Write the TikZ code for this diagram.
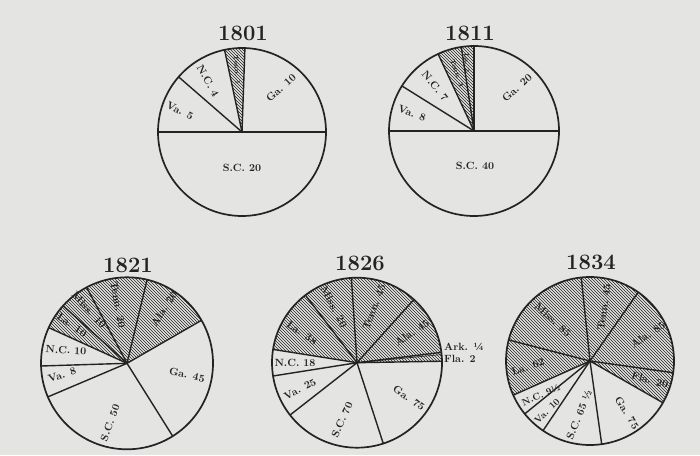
\documentclass[tikz,border=0pt]{standalone}
\usepackage{fontspec}
\usetikzlibrary{patterns}
\definecolor{paper}{RGB}{228,228,226}
\definecolor{ink}{RGB}{35,35,35}

\begin{document}
\begin{tikzpicture}[x=1pt, y=1pt, color=ink,
    title/.style={font=\fontsize{22}{24}\selectfont\bfseries, inner sep=0pt},
    lab/.style={font=\fontsize{10.5}{11}\selectfont\bfseries, inner sep=0pt},
    tinylab/.style={font=\fontsize{6.5}{7}\selectfont\bfseries, inner sep=0pt},
    rim/.style={line width=1.7pt},
    spoke/.style={line width=1.4pt},
    hatch/.style={pattern=north west lines, pattern color=ink}] % 1pt = 1px
    \fill[paper] (0,0) rectangle (700,455);
    \useasboundingbox (0,0) rectangle (700,455);

    % 1801
    \coordinate (c1801) at (242,323);
    \fill[hatch] (c1801) -- ++(88:84) arc[start angle=88, end angle=102, radius=84] -- cycle;
    \foreach \a in {0,88,102,139,180} \draw[spoke] (c1801) -- ++(\a:84);
    \draw[rim] (c1801) circle[radius=84];
    \node[title] (t1801) at (243,422) {1801};
    \node[lab] (sc1801) at (242,287) {S.C. 20};
    \node[lab, rotate=43] (ga1801) at (281,367) {Ga. 10};
    \node[lab, rotate=-61] (nc1801) at (208,374) {N.C. 4};
    \node[lab, rotate=-27] (va1801) at (180,344) {Va. 5};
    \node[tinylab, rotate=-85] (tn1801) at (237,385) {Tenn. 1};

    % 1811
    \coordinate (c1811) at (474,324);
    \fill[hatch] (c1811) -- ++(90:85) arc[start angle=90, end angle=115, radius=85] -- cycle;
    \foreach \a in {0,90,98.6,115,148,180} \draw[spoke] (c1811) -- ++(\a:85);
    \draw[rim] (c1811) circle[radius=85];
    \node[title] (t1811) at (470,422) {1811};
    \node[lab] (sc1811) at (475,289) {S.C. 40};
    \node[lab, rotate=43] (ga1811) at (517,367) {Ga. 20};
    \node[lab, rotate=-50] (nc1811) at (435,369) {N.C. 7};
    \node[lab, rotate=-20] (va1811) at (412,342) {Va. 8};
    \node[tinylab, rotate=-87] (la1811) at (467,392) {La. 2};
    \node[tinylab, rotate=-70] (tn1811) at (457,382) {Tenn. 3};

    % 1821
    \coordinate (c1821) at (127,91.7);
    \fill[hatch] (c1821) -- ++(30:86) arc[start angle=30, end angle=155.5, radius=86] -- cycle;
    \foreach \a in {-57.9,30,76.5,118,138,155.5,181.8,203} \draw[spoke] (c1821) -- ++(\a:86);
    \draw[rim] (c1821) circle[radius=86];
    \node[title] (t1821) at (128,190) {1821};
    \node[lab, rotate=-12] (ga1821) at (187,80) {Ga. 45};
    \node[lab, rotate=70] (sc1821) at (110,32) {S.C. 50};
    \node[lab, rotate=18] (va1821) at (62,80) {Va. 8};
    \node[lab, rotate=-3] (nc1821) at (66,105) {N.C. 10};
    \node[lab, rotate=-35] (la1821) at (72,130) {La. 10};
    \node[lab, rotate=-47] (ms1821) at (89,145) {Miss. 10};
    \node[lab, rotate=-80] (tn1821) at (118,150) {Tenn. 20};
    \node[lab, rotate=57] (al1821) at (164,146) {Ala. 20};

    % 1826
    \coordinate (c1826) at (357,92.3);
    \fill[hatch] (c1826) -- ++(1:85) arc[start angle=1, end angle=171, radius=85] -- cycle;
    \foreach \a in {-72,1,7,48,93.8,127.4,171,189,218} \draw[spoke] (c1826) -- ++(\a:85);
    \draw[line width=0.6pt] (c1826) -- ++(5.5:85);
    \draw[rim] (c1826) circle[radius=85];
    \node[title] (t1826) at (360,192) {1826};
    \node[lab, rotate=-35] (ga1826) at (409,57) {Ga. 75};
    \node[lab, rotate=66] (sc1826) at (342,35) {S.C. 70};
    \node[lab, rotate=27] (va1826) at (300,66) {Va. 25};
    \node[lab] (nc1826) at (295,92) {N.C. 18};
    \node[lab, rotate=-34] (la1826) at (302,122) {La. 38};
    \node[lab, rotate=-62] (ms1826) at (334,148) {Miss. 20};
    \node[lab, rotate=69] (tn1826) at (374,148) {Tenn. 45};
    \node[lab, rotate=34] (al1826) at (412,122) {Ala. 45};
    \node[lab, anchor=west] (ar1826) at (444,108) {Ark. ¼};
    \node[lab, anchor=west] (fl1826) at (444,96.5) {Fla. 2};

    % 1834
    \coordinate (c1834) at (590,94);
    \fill[hatch] (c1834) -- ++(-29.8:84) arc[start angle=-29.8, end angle=204, radius=84] -- cycle;
    \foreach \a in {-82,-29.8,-8,55,96,165.5,204,219,236} \draw[spoke] (c1834) -- ++(\a:84);
    \draw[rim] (c1834) circle[radius=84];
    \node[title] (t1834) at (591,193) {1834};
    \node[lab, rotate=-58] (ga1834) at (627,42) {Ga. 75};
    \node[lab, rotate=68] (sc1834) at (579,40) {S.C. 65 ½};
    \node[lab, rotate=45, font=\fontsize{9.5}{10}\selectfont\bfseries] (va1834) at (547,44) {Va. 10};
    \node[lab, rotate=24, font=\fontsize{9.5}{10}\selectfont\bfseries] (nc1834) at (541,60) {N.C. 9½};
    \node[lab, rotate=19] (la1834) at (528,88) {La. 62};
    \node[lab, rotate=-42] (ms1834) at (553,135) {Miss. 85};
    \node[lab, rotate=82] (tn1834) at (604,148) {Tenn. 45};
    \node[lab, rotate=34] (al1834) at (648,120) {Ala. 85};
    \node[lab, rotate=-16] (fl1834) at (650,75) {Fla. 20};
\end{tikzpicture}
\end{document}
